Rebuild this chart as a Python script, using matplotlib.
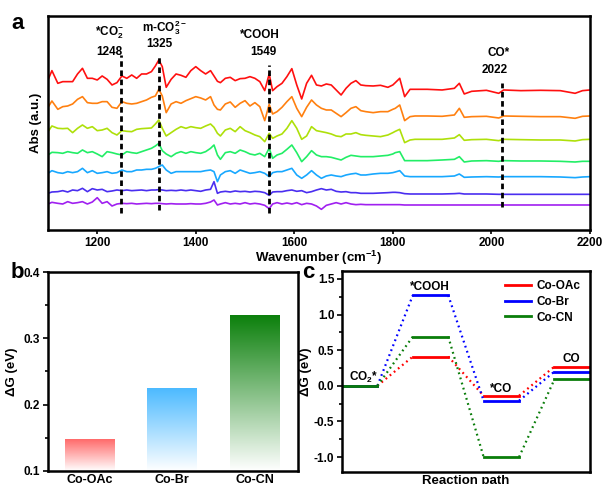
import numpy as np
import matplotlib
matplotlib.use("Agg")
import matplotlib.pyplot as plt
from matplotlib.ticker import MultipleLocator
from matplotlib.colors import to_rgb

plt.rcParams['font.family'] = ['Liberation Sans', 'DejaVu Sans']
plt.rcParams['font.weight'] = 'bold'
plt.rcParams['axes.labelweight'] = 'bold'
plt.rcParams['axes.linewidth'] = 1.8
plt.rcParams['mathtext.fontset'] = 'custom'
plt.rcParams['mathtext.rm'] = 'Liberation Sans:bold'
plt.rcParams['mathtext.it'] = 'Liberation Sans:bold'
plt.rcParams['mathtext.bf'] = 'Liberation Sans:bold'
plt.rcParams['mathtext.default'] = 'rm'

# ---- (a) in situ IR spectra, stacked ----
wn = [1100, 1108, 1120, 1130, 1140, 1150, 1160, 1170, 1180, 1190, 1200, 1210, 1220, 1230, 1240, 1250,
      1260, 1270, 1280, 1290, 1300, 1310,
      1318, 1325, 1332, 1340, 1350, 1360, 1370, 1380, 1390, 1400, 1410, 1420, 1430,
      1437, 1444, 1450, 1460, 1470, 1480, 1490, 1500, 1510, 1520, 1530, 1540,
      1549, 1556, 1565, 1575, 1585, 1595, 1605, 1615, 1625,
      1635, 1645, 1655, 1665, 1675, 1685, 1695, 1705, 1715, 1725, 1735, 1745,
      1760, 1775, 1790, 1800, 1805, 1814, 1824, 1835, 1845,
      1870, 1900, 1925, 1935, 1945, 1960, 1990, 2015, 2025, 2060, 2100, 2140, 2170, 2185, 2200]

abs_red = [32, 60, 22, 27, 27, 27, 50, 67, 37, 37, 32, 44, 34, 17, 24, 44, 37, 47, 37, 50, 50, 57,
           74, 92, 72, 10, 34, 50, 46, 40, 60, 72, 60, 50, 60,
           44, 28, 24, 37, 40, 30, 36, 37, 42, 37, 27, 0,
           50, 0, 12, 22, 42, 66, 17, -25, 22,
           46, 17, 14, 20, 17, 2, -13, 7, 22, 30, 17, 15,
           14, 16, 10, 17, 24, 37, -18, 4, 4,
           4, 2, 7, 22, -10, -2, 1, -8, 2, 0, 1, 0, -8, 0, 2]
abs_orange = [26, 45, 20, 28, 30, 36, 50, 58, 40, 38, 38, 43, 43, 26, 23, 43, 38, 36, 38, 43, 48, 56,
              60, 80, 60, 10, 36, 43, 38, 46, 52, 58, 54, 48, 58,
              33, 20, 18, 36, 42, 26, 38, 46, 30, 40, 28, -14,
              35, 6, 13, 26, 43, 58, 23, -2, 26,
              48, 33, 23, 18, 18, 8, -2, 10, 23, 28, 16, 13,
              10, 13, 13, 20, 23, 33, -14, -2, 0,
              0, -1, 3, 23, -4, -2, -1, -6, 0, -1, -2, -2, -7, -1, 0]
abs_yellow = [23, 40, 33, 32, 33, 20, 33, 43, 33, 38, 26, 28, 33, 20, 13, 26, 24, 23, 30, 32, 33, 34,
              46, 58, 33, 10, 20, 30, 38, 33, 38, 35, 33, 40, 46,
              36, 18, 10, 28, 33, 23, 38, 26, 20, 13, 8, -7,
              18, 3, 10, 16, 33, 56, 33, 0, 10,
              38, 26, 23, 20, 16, 10, 8, 16, 16, 20, 14, 12,
              10, 8, 13, 20, 24, 30, -10, -2, 0,
              0, 0, 4, 14, -3, -1, 0, -4, 0, -1, -2, -2, -5, -1, 0]
abs_green = [17, 25, 24, 22, 27, 24, 22, 32, 24, 27, 20, 12, 27, 24, 20, 17, 27, 24, 22, 27, 32, 37,
             44, 52, 30, 20, 12, 22, 27, 22, 27, 24, 22, 27, 37,
             47, 17, 4, 24, 27, 22, 32, 27, 20, 17, 22, 12,
             37, 7, 17, 22, 34, 47, 24, -3, 12,
             30, 17, 12, 12, 10, 6, 2, 10, 16, 14, 12, 12,
             12, 14, 16, 20, 24, 27, 0, 0, 0,
             0, 2, 4, 12, -4, -1, 0, -2, 0, -1, -1, -2, -4, -2, -2]
abs_blue = [10, 18, 12, 10, 15, 12, 15, 25, 12, 18, 10, 12, 15, 10, 12, 20, 15, 15, 20, 20, 22, 22,
            25, 30, 35, 20, 10, 15, 15, 15, 15, 15, 15, 18, 20,
            15, -15, 5, 15, 18, 10, 20, 15, 10, 12, 15, 10,
            0, 12, 15, 15, 20, 25, 5, -5, 5,
            18, 5, -5, 2, 5, 2, 0, 5, 8, 10, 5, 5,
            8, 10, 10, 12, 14, 18, 2, 0, 0,
            0, 0, 2, 8, -2, -1, 0, -1, 0, 0, 0, -1, -3, -1, 0]
abs_indigo = [3, 7, 8, 11, 7, 13, 11, 18, 8, 17, 13, 15, 8, 10, 13, 11, 13, 11, 12, 13, 11, 13,
              13, 14, 13, 11, 12, 11, 13, 11, 13, 11, 9, 13, 15,
              38, 3, 7, 9, 7, 10, 8, 9, 7, 9, 8, 5,
              -3, 7, 8, 8, 11, 13, 9, 11, 5,
              8, 13, 17, 13, 15, 9, 7, 8, 5, 5, 3, 3,
              3, 4, 5, 6, 6, 5, 2, 1, 1,
              1, 1, 2, 3, 1, 1, 1, 0, 0, 0, 0, 0, 0, 0, 0]
abs_purple = [3, 8, 5, 3, 10, 5, 7, 10, 3, 9, 22, 5, 10, -3, 3, 5, 4, 5, 3, 4, 5, 4,
              5, 5, 4, 3, 4, 3, 3, 3, 4, 3, 3, 5, 9,
              15, 0, 3, 7, 3, 5, 3, 7, 3, 5, 3, -1,
              -11, 3, 7, 3, 6, 3, 7, 1, 5,
              3, -3, -13, -1, 3, 7, 3, 7, 3, 1, 2, 1,
              1, 1, 1, 1, 1, 1, 0, 0, 0,
              0, 0, 0, 0, 0, 0, 0, 0, 0, 0, 0, 0, 0, 0, 0]

spectra = [abs_red, abs_orange, abs_yellow, abs_green, abs_blue, abs_indigo, abs_purple]
offsets = [418, 342, 272, 208, 160, 107, 75]
spec_colors = ['#ff1010', '#ff8010', '#aee00a', '#22ee66', '#18a8ff', '#4a2ef0', '#a020f0']

bands = [1248, 1325, 1549, 2022]
band_names = ['*CO$_2^{-}$', 'm-CO$_3^{2-}$', '*COOH', 'CO*']
band_lo = [51, 60, 50, 68]
band_hi = [525, 522, 495, 440]

# ---- (b) barrier of the rate-determining step ----
catalysts = ['Co-OAc', 'Co-Br', 'Co-CN']
dG_rds = [0.148, 0.225, 0.335]
bar_colors = ['#ff6a6a', '#4cbaff', '#0c800c']

# ---- (c) free energy diagram ----
steps = ['CO$_2$*', '*COOH', '*CO', 'CO']
G_oac = [0.0, 0.41, -0.14, 0.27]
G_br = [0.0, 1.27, -0.21, 0.20]
G_cn = [0.0, 0.69, -1.00, 0.09]
path_colors = ['#ff0000', '#0000ff', '#0a7d0a']

fig = plt.figure(figsize=(6.05, 4.84), dpi=100)
ax_a = fig.add_axes([0.0793, 0.5248, 0.8957, 0.4422])
ax_b = fig.add_axes([0.0793, 0.0269, 0.4133, 0.4111])
ax_c = fig.add_axes([0.5653, 0.0248, 0.4097, 0.4152])

for y, off, col in zip(spectra, offsets, spec_colors):
    ax_a.plot(wn, np.array(y) + off, color=col, lw=1.2)
for b, lo, hi in zip(bands, band_lo, band_hi):
    ax_a.plot([b, b], [lo, hi], color='black', lw=2, ls=(0, (2.0, 1.3)))

ax_a.text(1224, 591, band_names[0], ha='center', va='center', fontsize=8.5)
ax_a.text(1224, 534, str(bands[0]), ha='center', va='center', fontsize=8.5)
ax_a.text(1337, 606, band_names[1], ha='center', va='center', fontsize=8.5)
ax_a.text(1327, 558, str(bands[1]), ha='center', va='center', fontsize=8.5)
ax_a.text(1530, 585, band_names[2], ha='center', va='center', fontsize=8.5)
ax_a.text(1537, 534, str(bands[2]), ha='center', va='center', fontsize=8.5)
ax_a.text(2015, 531, band_names[3], ha='center', va='center', fontsize=8.5)
ax_a.text(2007, 480, str(bands[3]), ha='center', va='center', fontsize=8.5)

ax_a.set_xlim(1100, 2200)
ax_a.set_ylim(0, 642)
ax_a.set_yticks([])
ax_a.xaxis.set_major_locator(MultipleLocator(200))
ax_a.tick_params(axis='x', direction='out', length=3, width=1.2, labelsize=8.5, pad=2)
ax_a.set_xlabel('Wavenumber (cm$^{-1}$)', fontsize=9.5, labelpad=0)
ax_a.set_ylabel('Abs (a.u.)', fontsize=9.5, labelpad=4)

# gradient-filled bars
xb = np.arange(len(catalysts))
bars = ax_b.bar(xb, np.array(dG_rds) - 0.1, bottom=0.1, width=0.6, color='none', edgecolor='none')
t = np.linspace(0, 1, 256)
for bar, col in zip(bars, bar_colors):
    rgb = np.array(to_rgb(col))
    grad = (1 - t[:, None]) * np.ones(3) + t[:, None] * rgb
    ax_b.imshow(grad[:, None, :], extent=(bar.get_x(), bar.get_x() + bar.get_width(),
                                          bar.get_y(), bar.get_y() + bar.get_height()),
                origin='lower', aspect='auto', zorder=2)
ax_b.set_xlim(-0.5, 2.52)
ax_b.set_ylim(0.1, 0.4)
ax_b.set_xticks(xb)
ax_b.set_xticklabels(catalysts)
ax_b.yaxis.set_major_locator(MultipleLocator(0.1))
ax_b.yaxis.set_minor_locator(MultipleLocator(0.05))
ax_b.tick_params(axis='x', length=0, labelsize=9, pad=2)
ax_b.tick_params(axis='y', which='major', direction='out', length=3.5, width=1.2, labelsize=8.5, pad=2)
ax_b.tick_params(axis='y', which='minor', direction='out', length=2, width=1.2)
ax_b.set_ylabel('ΔG (eV)', fontsize=9.5, labelpad=4)

# free energy levels joined by dotted lines
for G, col, name in zip([G_oac, G_br, G_cn], path_colors, catalysts):
    for i, g in enumerate(G):
        ax_c.plot([2 * i, 2 * i + 1], [g, g], color=col, lw=2, label=name if i == 0 else None)
    for i in range(len(G) - 1):
        ax_c.plot([2 * i + 1, 2 * i + 2], [G[i], G[i + 1]], color=col, lw=1.6, ls=(0, (0.8, 1.6)))

ax_c.text(0.6, 0.11, steps[0], ha='center', va='center', fontsize=8.5)
ax_c.text(2.48, 1.39, steps[1], ha='center', va='center', fontsize=8.5)
ax_c.text(4.5, -0.04, steps[2], ha='center', va='center', fontsize=8.5)
ax_c.text(6.48, 0.37, steps[3], ha='center', va='center', fontsize=8.5)

ax_c.legend(loc='upper right', frameon=False, fontsize=8.5, handlelength=2.2,
            handletextpad=0.5, labelspacing=0.3, borderaxespad=0.4)
ax_c.set_xlim(0, 7)
ax_c.set_ylim(-1.21, 1.61)
ax_c.set_xticks([])
ax_c.yaxis.set_major_locator(MultipleLocator(0.5))
ax_c.yaxis.set_minor_locator(MultipleLocator(0.25))
ax_c.yaxis.set_major_formatter(plt.FuncFormatter(lambda v, p: f'{v:.1f}'))
ax_c.tick_params(axis='y', which='major', direction='out', length=3.5, width=1.2, labelsize=8.5, pad=2)
ax_c.tick_params(axis='y', which='minor', direction='out', length=2, width=1.2)
ax_c.set_xlabel('Reaction path', fontsize=9.5, labelpad=2)
ax_c.set_ylabel('ΔG (eV)', fontsize=9.5, labelpad=1)

fig.text(0.018, 0.94, 'a', fontsize=16, fontweight='bold', va='baseline')
fig.text(0.018, 0.426, 'b', fontsize=16, fontweight='bold', va='baseline')
fig.text(0.499, 0.426, 'c', fontsize=16, fontweight='bold', va='baseline')

fig.savefig('out.png', dpi=100)
